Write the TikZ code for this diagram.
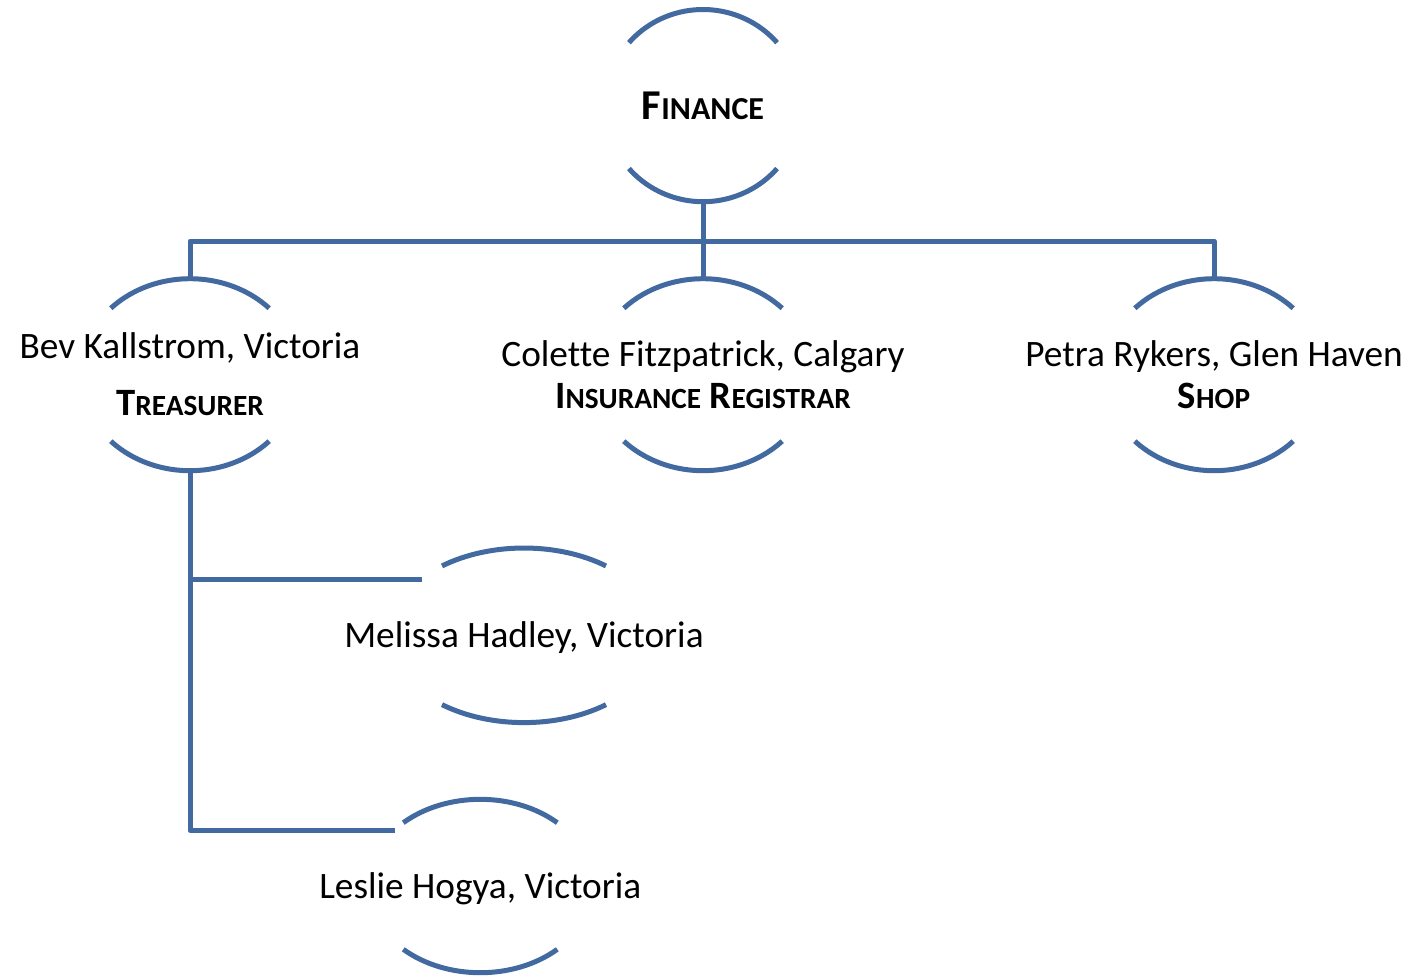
\documentclass[tikz,border=0pt]{standalone}
\usepackage{fontspec}
\setmainfont{Carlito}[Ligatures=CommonOff]
\definecolor{linec}{RGB}{66,106,160}
\tikzset{
  conn/.style={draw=linec, line width=5pt, line join=round},
  arcl/.style={draw=linec, line width=5pt},
  lbl/.style={anchor=base, inner sep=0pt, text=black},
}
% \arcshape{name}{cx}{cy}{a}{b}{theta}  (y axis points down)
\newcommand\arcshape[6]{%
  \draw[arcl] ({#2+#4*cos(#6)},{#3-#5*sin(#6)}) arc[start angle=-#6, end angle=#6-180, x radius=#4, y radius=#5];
  \draw[arcl] ({#2-#4*cos(#6)},{#3+#5*sin(#6)}) arc[start angle=180-#6, end angle=#6, x radius=#4, y radius=#5];
  \coordinate (#1-top) at (#2,{#3-#5});
  \coordinate (#1-bot) at (#2,{#3+#5});
}
\newcommand\nm{\fontsize{37.3}{37.3}\selectfont}
\newcommand\tb{\bfseries\fontsize{38.7}{38.7}\selectfont}
\newcommand\ts{\fontsize{29.3}{29.3}\selectfont}
\begin{document}
\begin{tikzpicture}[x=1pt,y=-1pt]
\useasboundingbox (0,0) rectangle (1412,978);
% shapes
\arcshape{fin}{703}{105.6}{98}{96.1}{40.9}
\arcshape{bev}{190}{374.7}{109.7}{96}{43.8}
\arcshape{col}{703}{374.7}{109.7}{96}{43.8}
\arcshape{pet}{1214}{374.7}{109.7}{96}{43.8}
\arcshape{mel}{524}{635.3}{135}{87.3}{52.6}
\arcshape{les}{480.3}{886}{112.7}{86.7}{46.9}
% texts
\node[lbl] (finT) at (703,119) {\bfseries\fontsize{42.5}{42.5}\selectfont F{\fontsize{32}{32}\selectfont INANCE}};
\node[lbl] (bevN) at (190,358.5) {\nm Bev Kallstrom, Victoria};
\node[lbl] (bevT) at (190,415.5) {\tb T{\ts REASURER}};
\node[lbl] (colN) at (703,366) {\nm Colette Fitzpatrick, Calgary};
\node[lbl] (colT) at (703,408) {\tb I{\ts NSURANCE} R{\ts EGISTRAR}};
\node[lbl] (petN) at (1214,366) {\nm Petra Rykers, Glen Haven};
\node[lbl] (petT) at (1214,408) {\tb S{\ts HOP}};
\node[lbl] (melN) at (524,647.5) {\nm Melissa Hadley, Victoria};
\node[lbl] (lesN) at (480.3,898) {\nm Leslie Hogya, Victoria};
% connector coordinates
\coordinate (bus) at (703,241);
\coordinate (mel-in) at (422,579.3);
\coordinate (les-in) at (395,830.7);
% connectors
\draw[conn] (fin-bot) -- (bus);
\draw[conn] (bev-top) |- (bus) -| (pet-top);
\draw[conn] (bus) -- (col-top);
\draw[conn] (bev-bot) |- (les-in);
\draw[conn] (bev-bot |- mel-in) -- (mel-in);
\end{tikzpicture}
\end{document}
